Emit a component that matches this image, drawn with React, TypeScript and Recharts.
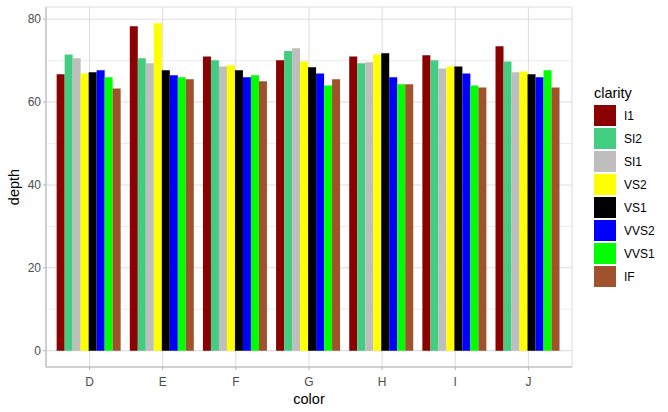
import React from 'react';
import { BarChart, Bar, XAxis, YAxis, CartesianGrid } from 'recharts';

const colorLevels = ['D', 'E', 'F', 'G', 'H', 'I', 'J'];
const clarityLevels = ['I1', 'SI2', 'SI1', 'VS2', 'VS1', 'VVS2', 'VVS1', 'IF'];
const clarityFills = ['#8b0000', '#43cd80', '#bebebe', '#ffff00', '#000000', '#0000ff', '#00ff00', '#a0522d'];

// max depth per color, one array per clarity
const depthI1 = [66.7, 78.3, 71.0, 70.1, 71.0, 71.3, 73.5];
const depthSI2 = [71.5, 70.6, 70.1, 72.3, 69.4, 70.1, 69.8];
const depthSI1 = [70.6, 69.4, 68.6, 73.0, 69.6, 68.1, 67.2];
const depthVS2 = [66.9, 79.0, 68.9, 69.8, 71.5, 68.6, 67.4];
const depthVS1 = [67.2, 67.7, 67.7, 68.4, 71.8, 68.6, 66.7];
const depthVVS2 = [67.7, 66.5, 66.0, 66.9, 66.0, 66.9, 66.0];
const depthVVS1 = [66.0, 66.0, 66.5, 64.0, 64.3, 64.0, 67.7];
const depthIF = [63.3, 65.5, 65.0, 65.5, 64.3, 63.5, 63.5];

const yTicks = [0, 20, 40, 60, 80];
const yMinor = [10, 30, 50, 70];

const seriesValues = [depthI1, depthSI2, depthSI1, depthVS2, depthVS1, depthVVS2, depthVVS1, depthIF];

const data = colorLevels.map((c, i) => {
    const row: Record<string, string | number> = { color: c };
    clarityLevels.forEach((k, j) => {
        row[k] = seriesValues[j][i];
    });
    return row;
});

const FONT = '"Liberation Sans", Arial, sans-serif';
const TICK = { fill: '#4d4d4d', fontSize: 12, fontFamily: FONT };
const BORDER = '#b3b3b3';
const GRID = '#dedede';
const DOMAIN: [number, number] = [-3.95, 82.95];

export default function App() {
    return (
        <div style={{ position: 'absolute', left: 0, top: 0, width: 668, height: 412, background: '#fff', fontFamily: FONT }}>
            <BarChart
                width={668}
                height={412}
                data={data}
                margin={{ top: 7, right: 96, left: 6, bottom: 0 }}
                barGap={0}
                barCategoryGap="5%"
            >
                <CartesianGrid stroke={GRID} strokeWidth={0.6} vertical={false} horizontalValues={yMinor} />
                <CartesianGrid stroke={GRID} strokeWidth={1.1} />
                <XAxis
                    dataKey="color"
                    padding={{ left: 7, right: 7 }}
                    height={45}
                    tick={TICK}
                    tickSize={3}
                    tickMargin={7}
                    axisLine={{ stroke: BORDER }}
                    tickLine={{ stroke: BORDER }}
                    label={{ value: 'color', position: 'insideBottom', offset: 8, fill: '#000', fontSize: 14.5, fontFamily: FONT }}
                />
                <XAxis
                    xAxisId="top"
                    orientation="top"
                    dataKey="color"
                    padding={{ left: 7, right: 7 }}
                    height={0}
                    tick={false}
                    tickLine={false}
                    axisLine={{ stroke: BORDER }}
                />
                <YAxis
                    domain={DOMAIN}
                    ticks={yTicks}
                    width={40}
                    tick={TICK}
                    tickSize={3}
                    tickMargin={2}
                    axisLine={{ stroke: BORDER }}
                    tickLine={{ stroke: BORDER }}
                    label={{
                        content: (props: any) => {
                            const vb = props.viewBox || {};
                            const cy = (vb.y ?? 0) + (vb.height ?? 0) / 2;
                            return (
                                <text
                                    x={14}
                                    y={cy}
                                    transform={`rotate(-90 14 ${cy})`}
                                    textAnchor="middle"
                                    dominantBaseline="central"
                                    fill="#000"
                                    fontSize={14.5}
                                    fontFamily={FONT}
                                >
                                    depth
                                </text>
                            );
                        },
                    }}
                />
                <YAxis
                    yAxisId="right"
                    orientation="right"
                    domain={DOMAIN}
                    width={0}
                    tick={false}
                    tickLine={false}
                    axisLine={{ stroke: BORDER }}
                />
                {clarityLevels.map((k, j) => (
                    <Bar key={k} dataKey={k} fill={clarityFills[j]} isAnimationActive={false} />
                ))}
            </BarChart>
            <div style={{ position: 'absolute', left: 594, top: 84 }}>
                <div style={{ fontSize: 14.5, color: '#000', height: 20, lineHeight: '18px' }}>clarity</div>
                {clarityLevels.map((k, j) => (
                    <div key={k} style={{ display: 'flex', alignItems: 'center', height: 23 }}>
                        <div style={{ width: 22, height: 21, background: clarityFills[j] }} />
                        <span style={{ marginLeft: 8, fontSize: 12, color: '#000' }}>{k}</span>
                    </div>
                ))}
            </div>
        </div>
    );
}
